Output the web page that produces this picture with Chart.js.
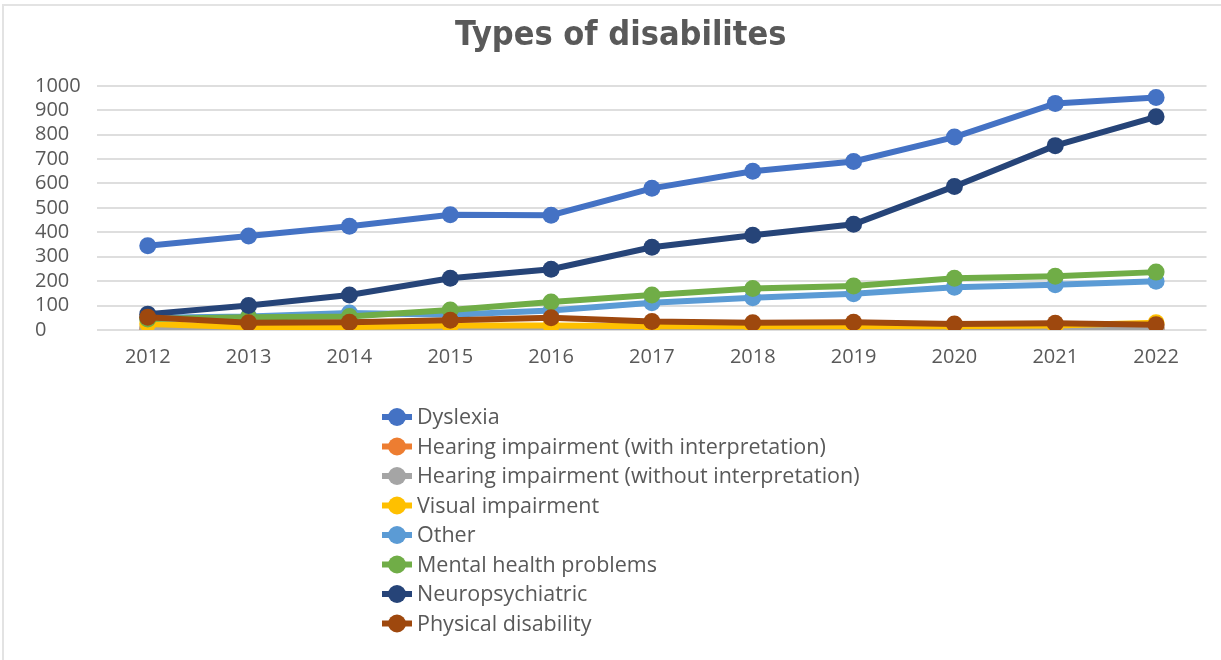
<!DOCTYPE html>
<html>
<head>
<meta charset="utf-8">
<title>Types of disabilites</title>
<script src="https://cdn.jsdelivr.net/npm/chart.js@4"></script>
<style>
    body { margin: 0; background: #fff; }
    #wrap { position: relative; width: 1221px; height: 660px; }
    #frame { position: absolute; left: 2px; top: 4px; right: 0; bottom: 0;
             border-left: 2px solid #e3e3e3; border-top: 2px solid #e3e3e3; }
    #chart { position: absolute; left: 0; top: 0; }
</style>
</head>
<body>
<div id="wrap">
    <div id="frame"></div>
    <canvas id="chart" width="1221" height="660"></canvas>
</div>
<script>
const years = ['2012', '2013', '2014', '2015', '2016', '2017', '2018', '2019', '2020', '2021', '2022'];

const dyslexia = [345, 385, 425, 472, 470, 580, 650, 690, 790, 928, 952];
const hearingWith = [5, 3, 3, 3, 3, 3, 3, 3, 5, 5, 5];
const hearingWithout = [10, 8, 8, 10, 10, 8, 10, 10, 10, 10, 8];
const visual = [25, 12, 12, 18, 18, 15, 15, 15, 15, 18, 30];
const other = [50, 55, 70, 62, 80, 112, 132, 148, 175, 185, 200];
const mentalHealth = [45, 52, 55, 82, 115, 143, 170, 180, 212, 220, 237];
const neuropsychiatric = [65, 100, 143, 212, 249, 339, 388, 433, 588, 755, 873];
const physical = [52, 30, 32, 40, 50, 35, 30, 32, 25, 28, 22];

const seriesNames = [
    'Dyslexia',
    'Hearing impairment (with interpretation)',
    'Hearing impairment (without interpretation)',
    'Visual impairment',
    'Other',
    'Mental health problems',
    'Neuropsychiatric',
    'Physical disability'
];
const seriesData = [dyslexia, hearingWith, hearingWithout, visual, other, mentalHealth, neuropsychiatric, physical];
const seriesColors = ['#4472C4', '#ED7D31', '#A5A5A5', '#FFC000', '#5B9BD5', '#70AD47', '#264478', '#9E480E'];

const textColor = '#595959';
const fontFamily = "'Open Sans', sans-serif";

// later series sit on top of earlier ones
const datasets = seriesNames.map((name, i) => ({
    label: name,
    data: seriesData[i],
    borderColor: seriesColors[i],
    backgroundColor: seriesColors[i],
    borderWidth: 6,
    pointRadius: 8.5,
    pointHoverRadius: 8.5,
    pointBorderWidth: 0,
    tension: 0,
    order: seriesNames.length - i
}));

// list legend under the plot, one row per series
const listLegend = {
    id: 'listLegend',
    afterDraw(chart) {
        const ctx = chart.ctx;
        const x0 = 382;
        const y0 = 417;
        const rowH = 29.5;
        ctx.save();
        ctx.font = '21.5px ' + fontFamily;
        ctx.textBaseline = 'middle';
        ctx.textAlign = 'left';
        chart.data.datasets.forEach((ds, i) => {
            const y = y0 + i * rowH;
            ctx.strokeStyle = ds.borderColor;
            ctx.lineWidth = 6;
            ctx.beginPath();
            ctx.moveTo(x0, y);
            ctx.lineTo(x0 + 30, y);
            ctx.stroke();
            ctx.fillStyle = ds.borderColor;
            ctx.beginPath();
            ctx.arc(x0 + 15, y, 9, 0, Math.PI * 2);
            ctx.fill();
            ctx.fillStyle = textColor;
            ctx.fillText(ds.label, x0 + 35, y + 1);
        });
        ctx.restore();
    }
};

new Chart(document.getElementById('chart'), {
    type: 'line',
    data: { labels: years, datasets: datasets },
    plugins: [listLegend],
    options: {
        responsive: false,
        animation: false,
        layout: { padding: { left: 35, right: 14.5, top: 0, bottom: 276 } },
        plugins: {
            legend: { display: false },
            tooltip: { enabled: false },
            title: {
                display: true,
                text: 'Types of disabilites',
                color: textColor,
                font: { family: "'Liberation Sans Narrow', 'DejaVu Sans Condensed', 'Open Sans', sans-serif", size: 34, weight: 'bold' },
                padding: { top: 16, bottom: 29 }
            }
        },
        scales: {
            x: {
                offset: true,
                grid: { display: false, drawTicks: false },
                border: { display: false },
                ticks: { color: textColor, font: { family: fontFamily, size: 20 }, padding: 15 }
            },
            y: {
                min: 0,
                max: 1000,
                grid: { color: '#dedede', lineWidth: 2, drawTicks: false },
                border: { display: false },
                ticks: {
                    stepSize: 100,
                    autoSkip: false,
                    color: textColor,
                    font: { family: fontFamily, size: 20 },
                    padding: 8.3,
                    crossAlign: 'far',
                    callback: (v) => String(v)
                }
            }
        }
    }
});
</script>
</body>
</html>
